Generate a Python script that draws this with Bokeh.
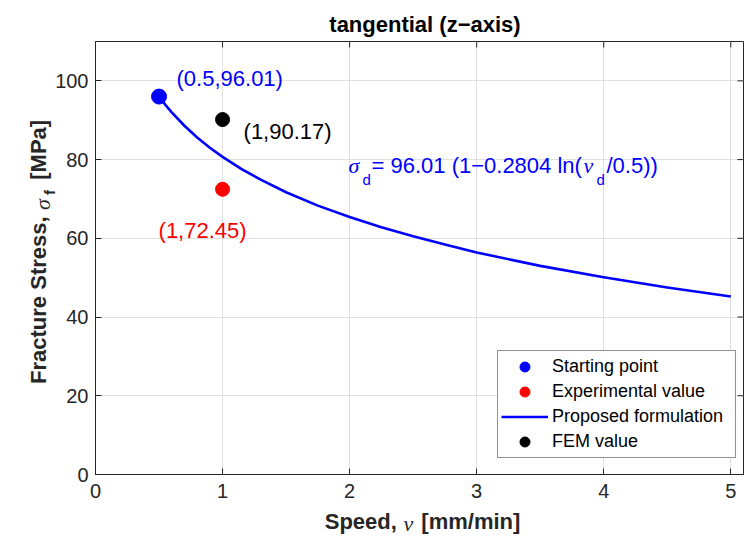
import math
from bokeh.plotting import figure
from bokeh.models import Range1d, FixedTicker, Label, Legend, LegendItem
from bokeh.embed import file_html
from bokeh.resources import INLINE

# ---- data ----
speed = [0.5, 0.55, 0.6, 0.7, 0.8, 0.9, 1.0, 1.15, 1.3, 1.5, 1.75, 2.0, 2.25, 2.5, 2.75,
         3.0, 3.5, 4.0, 4.5, 5.0]
stress = [96.01, 93.9, 92.0, 88.6, 85.6, 83.0, 80.7, 77.6, 74.9, 71.7, 68.3, 65.4, 62.8,
          60.5, 58.4, 56.4, 53.0, 50.1, 47.5, 45.2]
start_x, start_y = [0.5], [96.01]
exp_x, exp_y = [1.0], [72.45]
fem_x, fem_y = [1.0], [90.17]
x_ticks = [0, 1, 2, 3, 4, 5]
y_ticks = [0, 20, 40, 60, 80, 100]
x_lim = (0, 5.1)
y_lim = (0, 110)
legend_labels = ["Starting point", "Experimental value", "Proposed formulation", "FEM value"]
title_text = "tangential (z\u2212axis)"

SANS = "Liberation Sans"
SERIF = "Liberation Serif"
AX = "#262626"
HALF_PI = math.pi / 2
NB = "\u00a0"

p = figure(width=745, height=540, x_range=Range1d(*x_lim), y_range=Range1d(*y_lim),
           output_backend="svg", toolbar_location=None,
           min_border_left=95, min_border_right=2, min_border_top=40, min_border_bottom=66)
p.background_fill_color = "white"
p.border_fill_color = "white"
p.outline_line_color = AX
p.outline_line_width = 1

for ax in (p.xaxis[0], p.yaxis[0]):
    ax.major_tick_in = 6
    ax.major_tick_out = 0
    ax.minor_tick_line_color = None
    ax.axis_line_color = AX
    ax.major_tick_line_color = AX
    ax.major_label_text_color = AX
    ax.major_label_text_font = SANS
    ax.major_label_text_font_size = "20px"
    ax.axis_label_text_font = SANS
    ax.axis_label_text_font_size = "22px"
    ax.axis_label_text_font_style = "bold"
    ax.axis_label_text_color = AX
p.xaxis.ticker = FixedTicker(ticks=x_ticks)
p.yaxis.ticker = FixedTicker(ticks=y_ticks)
p.xaxis.major_label_standoff = 9
p.yaxis.major_label_standoff = 7
p.xaxis.axis_label_standoff = 8
p.yaxis.axis_label_standoff = 1
# gaps (non-breaking spaces) leave room for the italic Greek symbols drawn separately
p.xaxis.axis_label = NB + "Speed," + NB * 4 + "[mm/min]"
p.yaxis.axis_label = NB * 2 + "Fracture Stress," + NB * 6 + "[MPa]"

p.xgrid.grid_line_color = "#e0e0e0"
p.ygrid.grid_line_color = "#e0e0e0"
p.xgrid.ticker = FixedTicker(ticks=x_ticks)
p.ygrid.ticker = FixedTicker(ticks=y_ticks)

# inward tick marks on the top and right edges of the box (half of each dash is clipped away)
p.scatter(x_ticks, [y_lim[1]] * len(x_ticks), marker="dash", angle=HALF_PI, size=12,
          line_color=AX, line_width=1)
p.scatter([x_lim[1]] * len(y_ticks), y_ticks, marker="dash", size=12,
          line_color=AX, line_width=1)

curve = p.line(speed, stress, line_color="#0000ff", line_width=2.6, line_join="round")
r_start = p.scatter(start_x, start_y, marker="circle", size=15, fill_color="#0000ff", line_color="#0000ff")
r_exp = p.scatter(exp_x, exp_y, marker="circle", size=14, fill_color="#ff0000", line_color="#ff0000")
r_fem = p.scatter(fem_x, fem_y, marker="circle", size=14, fill_color="#000000", line_color="#000000")

legend = Legend(items=[LegendItem(label=legend_labels[0], renderers=[r_start]),
                       LegendItem(label=legend_labels[1], renderers=[r_exp]),
                       LegendItem(label=legend_labels[2], renderers=[curve]),
                       LegendItem(label=legend_labels[3], renderers=[r_fem])],
                location=(402, 16), padding=3, spacing=0, glyph_width=47, glyph_height=25,
                label_height=25, label_standoff=4, label_width=180,
                label_text_font=SANS, label_text_font_size="18px", label_text_color="#000000",
                border_line_color=AX, border_line_width=1, background_fill_color="white",
                background_fill_alpha=1.0)
p.add_layout(legend, "center")


def olabel(place, text, x, y, size, color, style="normal", font=SANS, align="left", angle=0.0):
    # text outside the plotting box, positioned in data units
    p.add_layout(Label(x=x, y=y, text=text, text_font=font, text_font_size=f"{size}px",
                       text_font_style=style, text_color=color, text_align=align,
                       text_baseline="middle", angle=angle), place)


def slabel(text, x, y, size, color, style="normal", font=SANS):
    p.add_layout(Label(x=x, y=y, x_units="screen", y_units="screen", text=text,
                       text_font=font, text_font_size=f"{size}px", text_font_style=style,
                       text_color=color, text_align="left", text_baseline="middle"))


def dlabel(text, x, y, dx, dy, color):
    p.add_layout(Label(x=x, y=y, x_offset=dx, y_offset=dy, text=text, text_font=SANS,
                       text_font_size="22px", text_color=color, text_align="left",
                       text_baseline="middle"))


dlabel(f"({start_x[0]:g},{start_y[0]:g})", start_x[0], start_y[0], 17.5, 18.2, "#0000ff")
dlabel(f"({fem_x[0]:g},{fem_y[0]:g})", fem_x[0], fem_y[0], 21, -11.7, "#000000")
dlabel(f"({exp_x[0]:g},{exp_y[0]:g})", exp_x[0], exp_y[0], -64, -40.8, "#ff0000")

# title
olabel("above", title_text, 2.593, 114.3, 22, "#000000", style="bold", align="center")
# Greek symbols / subscript of the axis labels
olabel("above", "\u03c3", -0.420, 67.17, 22, AX, style="italic", font=SERIF, angle=HALF_PI)
olabel("above", "f", -0.364, 70.98, 15, AX, style="bold", angle=HALF_PI)
olabel("left", "\u03bd", 2.424, -12.57, 22, AX, style="italic", font=SERIF)

# formula annotation
slabel("\u03c3", 253, 309.4, 22, "#0000ff", style="italic", font=SERIF)
slabel("d", 267, 295.2, 15, "#0000ff")
slabel("= 96.01 (1\u22120.2804 ln(", 276, 309.4, 22, "#0000ff")
slabel("\u03bd", 488, 309.4, 22, "#0000ff", style="italic", font=SERIF)
slabel("d", 501, 295.2, 15, "#0000ff")
slabel("/0.5))", 511, 309.4, 22, "#0000ff")

open("out.html", "w").write(file_html(p, INLINE))
